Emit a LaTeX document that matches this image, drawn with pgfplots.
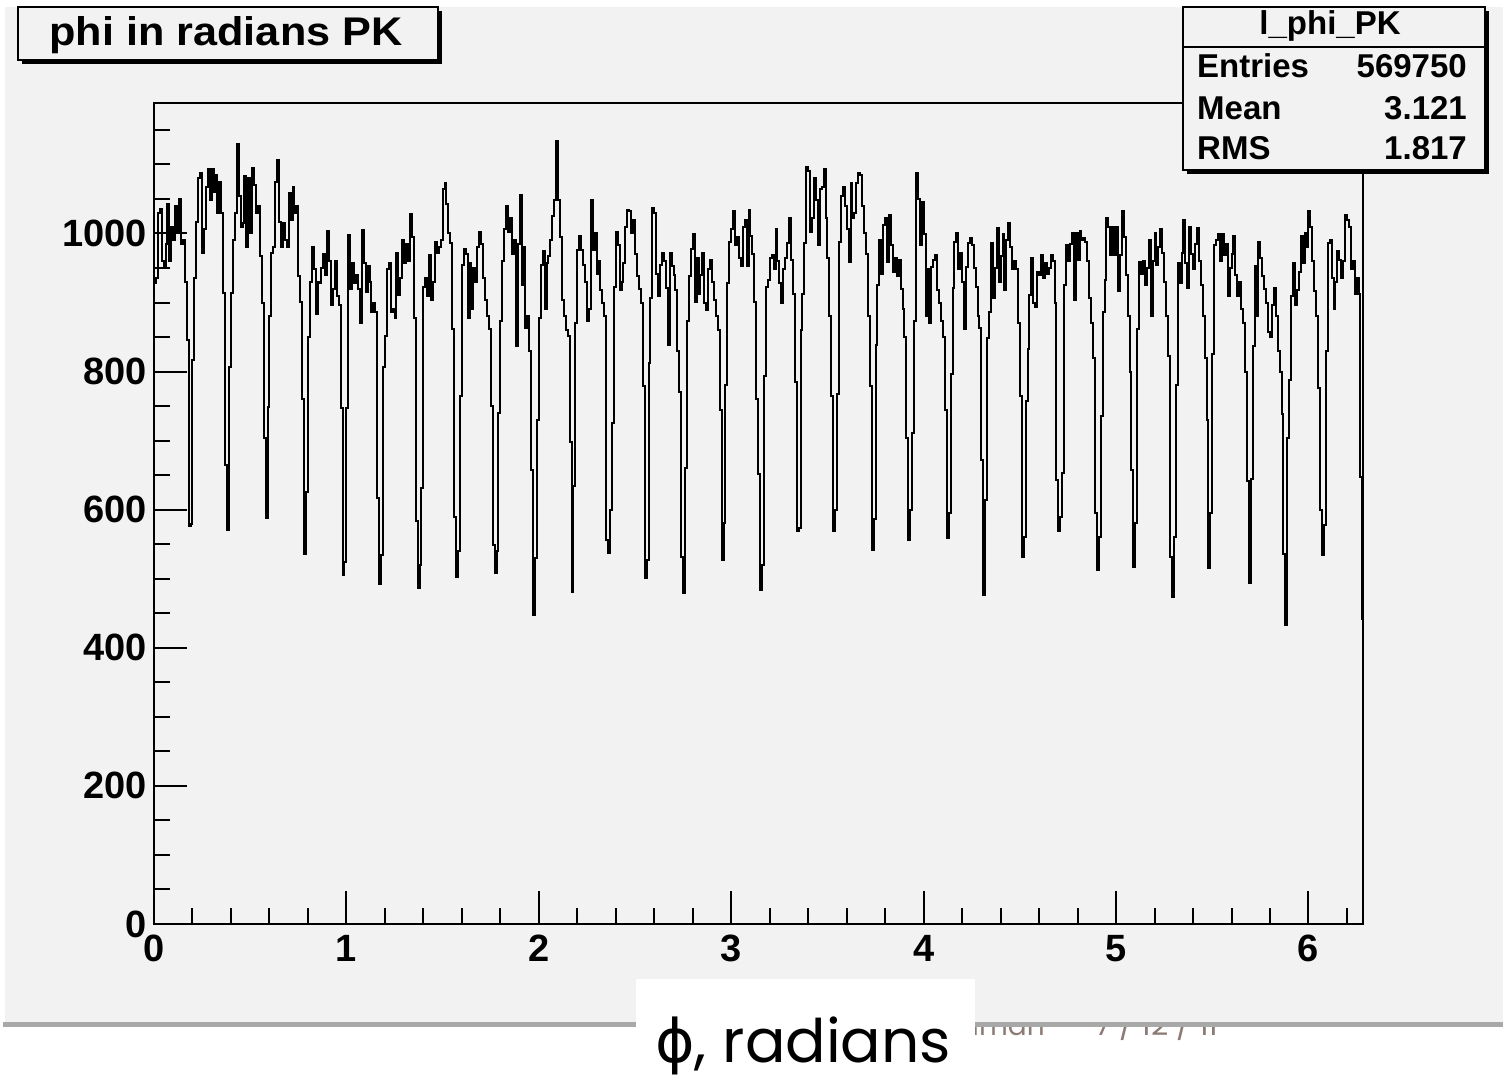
\documentclass[border=0pt]{standalone}
\usepackage{graphicx}
\usepackage{pgfplots}
\pgfplotsset{compat=1.18}
\usepackage{pgfplotstable}
\usepackage{fontspec}
\setmainfont{Liberation Sans}
\newfontfamily\poppins{Poppins}
\newfontfamily\dejavu{DejaVu Sans}
\definecolor{canvas}{HTML}{F2F2F2}
\definecolor{shadowgray}{HTML}{A8A8A8}
\definecolor{footer}{HTML}{8C7B75}
% one value per bin of width 0.01 rad
\pgfplotstableread[row sep=\\,header=false]{
929\\935\\1030\\1035\\960\\950\\985\\1042\\960\\1010\\990\\1040\\1000\\1050\\985\\990\\
930\\846\\577\\580\\817\\
936\\1017\\1081\\1088\\972\\1006\\1067\\1093\\1049\\1093\\1060\\1085\\1030\\1075\\1030\\
914\\665\\571\\807\\914\\
990\\1030\\1130\\1054\\1010\\1015\\1083\\981\\1081\\1000\\1095\\1070\\1030\\1040\\967\\
900\\704\\588\\749\\880\\
972\\980\\1074\\1107\\1016\\981\\1015\\990\\981\\1059\\1020\\1067\\1030\\1040\\938\\
901\\760\\536\\626\\850\\
930\\981\\948\\883\\930\\928\\950\\970\\940\\1003\\960\\897\\920\\960\\910\\
897\\748\\506\\524\\748\\
998\\919\\957\\928\\940\\919\\871\\1005\\957\\915\\953\\930\\887\\900\\
887\\617\\493\\535\\806\\
851\\948\\957\\887\\890\\878\\972\\911\\935\\990\\957\\985\\960\\1028\\995\\
878\\583\\486\\520\\631\\
923\\935\\909\\969\\904\\930\\988\\972\\980\\990\\1064\\1073\\1042\\1000\\986\\
861\\589\\502\\540\\764\\
955\\978\\971\\878\\957\\890\\950\\930\\980\\1002\\985\\936\\904\\880\\861\\
750\\549\\508\\540\\740\\
873\\960\\1006\\1040\\1002\\1023\\971\\990\\837\\985\\1056\\926\\980\\863\\880\\
830\\657\\448\\530\\730\\
878\\955\\975\\890\\957\\967\\990\\1025\\1049\\1134\\1049\\995\\904\\880\\860\\
851\\698\\481\\634\\870\\
976\\996\\976\\955\\930\\873\\890\\1049\\976\\1000\\941\\960\\918\\900\\
880\\556\\537\\600\\725\\
923\\1002\\983\\918\\930\\957\\1010\\1034\\1032\\1001\\1020\\970\\939\\920\\
899\\779\\501\\527\\813\\
906\\1037\\1030\\941\\909\\955\\972\\960\\921\\838\\972\\953\\940\\918\\830\\
771\\532\\480\\660\\873\\
939\\977\\999\\901\\964\\913\\940\\972\\899\\889\\948\\961\\930\\904\\880\\
860\\745\\527\\581\\781\\
929\\988\\1006\\1032\\983\\995\\964\\953\\1010\\1020\\953\\1034\\996\\970\\901\\
760\\651\\484\\520\\794\\
923\\933\\964\\969\\948\\1006\\960\\928\\899\\948\\964\\986\\1022\\962\\
913\\785\\569\\574\\860\\
913\\986\\1097\\1090\\1002\\1022\\1080\\1049\\983\\1064\\1067\\1094\\1022\\964\\
880\\764\\569\\600\\768\\
988\\1054\\1068\\1040\\1006\\959\\1073\\1022\\1030\\1073\\1088\\1085\\1040\\1000\\971\\
880\\779\\542\\586\\839\\
926\\990\\941\\1013\\1022\\959\\1027\\983\\944\\964\\939\\962\\920\\890\\
850\\704\\556\\600\\711\\
873\\1088\\1050\\983\\1045\\999\\880\\948\\870\\952\\962\\969\\918\\900\\873\\
850\\745\\559\\595\\796\\
921\\988\\1000\\948\\972\\930\\861\\952\\986\\993\\983\\950\\923\\880\\
863\\672\\477\\614\\849\\
887\\986\\906\\950\\1008\\930\\967\\999\\918\\990\\1015\\980\\948\\960\\948\\
870\\764\\531\\560\\757\\
832\\911\\964\\899\\894\\944\\940\\969\\935\\957\\941\\950\\969\\960\\
900\\643\\569\\590\\653\\
926\\983\\960\\985\\1001\\904\\1001\\962\\1004\\990\\994\\987\\960\\906\\870\\
820\\595\\512\\560\\735\\
887\\933\\1022\\1010\\969\\1010\\969\\1010\\916\\969\\1032\\995\\940\\880\\
800\\658\\517\\581\\861\\
959\\941\\960\\926\\950\\990\\880\\960\\1001\\955\\980\\1006\\972\\930\\880\\
822\\532\\474\\560\\781\\
957\\928\\972\\1020\\957\\921\\1010\\970\\948\\985\\1008\\960\\926\\880\\
820\\730\\516\\595\\826\\
983\\990\\999\\960\\999\\969\\985\\909\\950\\970\\996\\940\\909\\930\\890\\870\\
800\\641\\494\\645\\837\\
953\\880\\988\\964\\939\\920\\899\\857\\850\\897\\921\\880\\830\\800\\
738\\536\\433\\704\\788\\
909\\957\\897\\918\\944\\996\\957\\1001\\980\\1032\\1010\\960\\916\\880\\
776\\600\\535\\578\\830\\
986\\990\\935\\890\\930\\975\\962\\935\\960\\1027\\1020\\1010\\948\\960\\913\\
935\\913\\648\\441\\441\\
}\histdata
\begin{document}
\begin{tikzpicture}[x=1pt,y=1pt]
\fill[white] (0,0) rectangle (1503,1081);
\useasboundingbox (0,0) rectangle (1503,1081);
% slide footer, partly hidden behind the canvas
\node[anchor=base east, inner sep=0pt, text=footer, font=\poppins\fontsize{28}{28}\selectfont] at (1045,46) {Hillman};
\node[anchor=base west, inner sep=0pt, text=footer, font=\poppins\fontsize{30}{30}\selectfont] at (1095,46) {7 / 12 / 11};
% canvas
\fill[canvas] (5,59) rectangle (1503,1074);
\fill[shadowgray] (3,54) rectangle (1503,59);
% title box
\fill[black] (22,1017) rectangle (442,1070);
\filldraw[fill=canvas, draw=black, line width=1.5pt] (18,1021) rectangle (438,1074);
\node[anchor=base, inner sep=0pt, font=\fontsize{40}{40}\selectfont\bfseries] at (226,1035) {\scalebox{1.08}[1]{phi in radians PK}};
\begin{axis}[
  at={(154pt,157pt)}, anchor=south west,
  scale only axis, width=1209pt, height=821pt,
  xmin=0, xmax=6.2832, ymin=0, ymax=1189,
  axis line style={line width=2.5pt, black},
  tick pos=left, tick align=inside,
  xtick={0,1,2,3,4,5,6},
  ytick={0,200,400,600,800,1000},
  minor xtick={0.2,0.4,0.6,0.8,1.2,1.4,1.6,1.8,2.2,2.4,2.6,2.8,3.2,3.4,3.6,3.8,4.2,4.4,4.6,4.8,5.2,5.4,5.6,5.8,6.2},
  minor ytick={50,100,150,250,300,350,450,500,550,650,700,750,850,900,950,1050,1100,1150},
  major tick length=33pt, minor tick length=16pt,
  major tick style={line width=2pt, black},
  minor tick style={line width=2pt, black},
  /pgf/number format/assume math mode=true,
  /pgf/number format/set thousands separator={},
  ticklabel style={font=\fontsize{38}{38}\selectfont\bfseries},
  xticklabel style={inner sep=0pt, yshift=-11pt},
  yticklabel style={inner sep=0pt, xshift=-7pt},
  scaled ticks=false,
]
\addplot[const plot, black, line width=2pt] table[x expr=\coordindex*0.01, y index=0] {\histdata};
\end{axis}
% stats box
\fill[black] (1187,907) rectangle (1489,1070);
\filldraw[fill=canvas, draw=black, line width=1.5pt] (1183,911) rectangle (1485,1074);
\draw[black, line width=1.5pt] (1183,1034) -- (1485,1034);
\node[anchor=base, inner sep=0pt, font=\fontsize{33}{33}\selectfont\bfseries] at (1330,1046) {l\_phi\_PK};
\node[anchor=base west, inner sep=0pt, font=\fontsize{33}{33}\selectfont\bfseries] at (1197,1003) {Entries};
\node[anchor=base east, inner sep=0pt, font=\fontsize{33}{33}\selectfont\bfseries] at (1467,1003) {569750};
\node[anchor=base west, inner sep=0pt, font=\fontsize{33}{33}\selectfont\bfseries] at (1197,961) {Mean};
\node[anchor=base east, inner sep=0pt, font=\fontsize{33}{33}\selectfont\bfseries] at (1467,961) {3.121};
\node[anchor=base west, inner sep=0pt, font=\fontsize{33}{33}\selectfont\bfseries] at (1197,921) {RMS};
\node[anchor=base east, inner sep=0pt, font=\fontsize{33}{33}\selectfont\bfseries] at (1467,921) {1.817};
% axis caption box from the slide
\fill[white] (636,0) rectangle (975,102);
\node[anchor=base west, inner sep=0pt] at (655,19) {{\dejavu\fontsize{60}{60}\selectfont ϕ}{\poppins\fontsize{60}{60}\selectfont , radians}};
\end{tikzpicture}
\end{document}
